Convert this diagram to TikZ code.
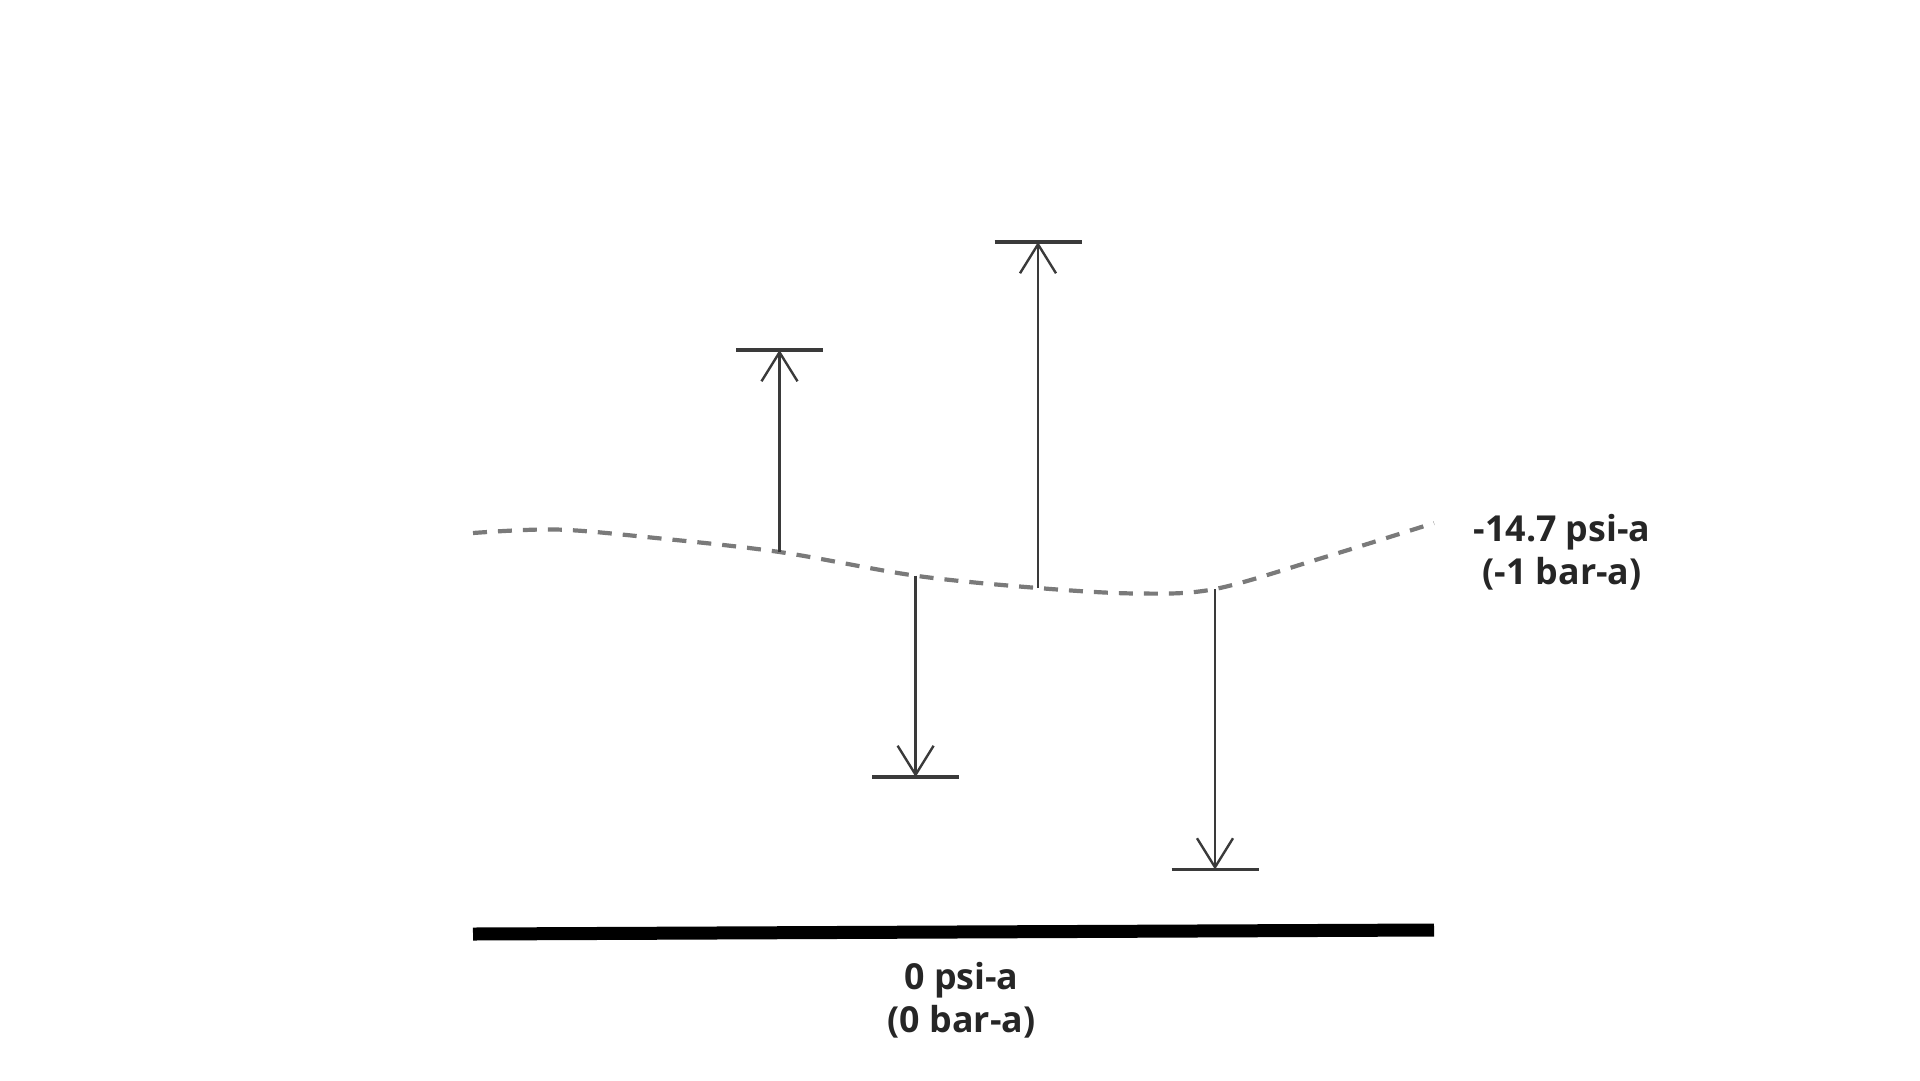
\documentclass[tikz,border=0pt]{standalone}
\usepackage{fontspec}
\setmainfont{Open Sans}
\usetikzlibrary{arrows.meta,calc}
\definecolor{inkgray}{HTML}{3A3A3A}
\definecolor{dashgray}{HTML}{7A7A7A}
\definecolor{txtgray}{HTML}{262626}
\tikzset{
  levelcurve/.style={dashgray,line width=4.2pt,dash pattern=on 14pt off 11pt},
  arr/.style={inkgray,line width=2.4pt,-{Straight Barb[length=29pt,width=36pt,line width=2.4pt]}},
  limitbar/.style={inkgray,line width=3.2pt},
  groundbar/.style={black,line width=13pt},
  lbl/.style={txtgray,font=\fontsize{35.8}{43}\selectfont\bfseries,align=center,inner sep=0pt,anchor=base}
}
\begin{document}
\begin{tikzpicture}[x=1pt,y=-1pt]
\useasboundingbox (0,0) rectangle (1920,1080);
% dashed reference curve (-14.7 psi-a)
\draw[levelcurve] plot[smooth,tension=0.55] coordinates {(473,533) (556,529.5) (652,537.6) (779.5,552) (915.6,575.7) (1038,588) (1137,593.5) (1215,589) (1322,558) (1434,523)};
% arrow bases on the curve
\coordinate (b1) at (779.5,552);
\coordinate (b3) at (915.6,575.7);
\coordinate (b2) at (1038,588);
\coordinate (b4) at (1215,589);
% arrow ends
\coordinate (e1) at (779.5,350);
\coordinate (e2) at (1038,242);
\coordinate (e3) at (915.6,777);
\coordinate (e4) at (1215,869.5);
% limit bars
\draw[limitbar] ($(e1)+(-43.5,0)$) -- ($(e1)+(43.5,0)$);
\draw[limitbar] ($(e2)+(-43.5,0)$) -- ($(e2)+(43.5,0)$);
\draw[limitbar] ($(e3)+(-43.5,0)$) -- ($(e3)+(43.5,0)$);
\draw[limitbar] ($(e4)+(-43.5,0)$) -- ($(e4)+(43.5,0)$);
% arrows
\draw[arr] (b1) -- (e1);
\draw[arr] (b2) -- (e2);
\draw[arr] (b3) -- (e3);
\draw[arr] (b4) -- (e4);
% zero line
\coordinate (g1) at (473,934);
\coordinate (g2) at (1434,930);
\draw[groundbar] (g1) -- (g2);
% labels (anchor = baseline of the last line)
\node[lbl] (vac) at (1562,584.7) {-14.7 psi-a\\(-1 bar-a)};
\node[lbl] (zero) at (961.5,1032.3) {0 psi-a\\(0 bar-a)};
\end{tikzpicture}
\end{document}
